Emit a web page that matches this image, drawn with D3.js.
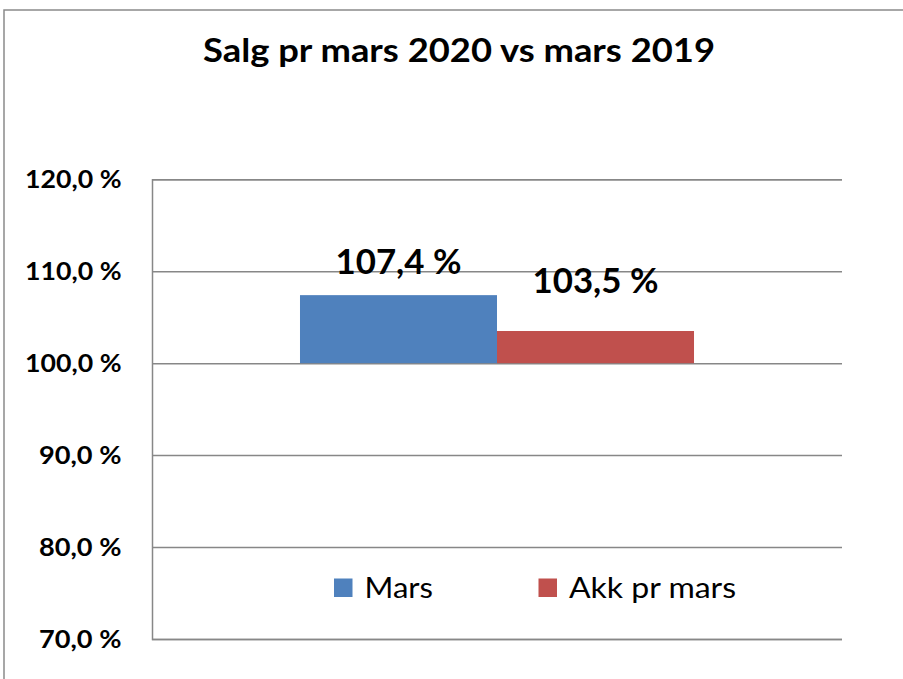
<!DOCTYPE html>
<html><head><meta charset="utf-8">
<script src="https://cdn.jsdelivr.net/npm/d3@7"></script>
<style>body{margin:0;background:#fff}svg{display:block}</style>
</head><body>
<script>
// ---- data ----
const chartTitle = "Salg pr mars 2020 vs mars 2019";
const categories = ["mars"];
const seriesNames = ["Mars", "Akk pr mars"];
const seriesValues = [107.4, 103.5];
const yTicks = [70, 80, 90, 100, 110, 120];
const yDomain = [70, 120];
const baseValue = 100;

// ---- style / layout ----
const W = 903, H = 679;
const colors = ["#4F81BD", "#C0504D"];
const gridColor = "#878787";
const font = "Lato, 'Open Sans', sans-serif";
const plot = {left: 152, right: 842, top: 179.3, bottom: 639};

const locale = d3.formatLocale({decimal: ",", thousands: " ", grouping: [3], currency: ["", ""]});
const fmt = v => locale.format(".1f")(v) + " %";

const svg = d3.select("body").append("svg").attr("width", W).attr("height", H);
svg.append("rect").attr("width", W).attr("height", H).attr("fill", "#fff");

// outer frame (clipped at right/bottom as in the reference)
svg.append("rect").attr("x", 4).attr("y", 10).attr("width", W + 20).attr("height", H + 20)
  .attr("fill", "none").attr("stroke", "#8a8a8a").attr("stroke-width", 1.5);

// title
svg.append("text").attr("x", 459).attr("y", 62).attr("text-anchor", "middle")
  .attr("font-family", font).attr("font-weight", 700).attr("font-size", 33)
  .attr("textLength", 512).attr("lengthAdjust", "spacingAndGlyphs")
  .attr("fill", "#000").text(chartTitle);

const y = d3.scaleLinear().domain(yDomain).range([plot.bottom, plot.top]);
const x0 = d3.scaleBand().domain(categories).range([plot.left, plot.right])
  .paddingInner(0).paddingOuter(0.3756);
const x1 = d3.scaleBand().domain(seriesNames).range([0, x0.bandwidth()]).padding(0);

// gridlines + y axis
const yAxis = d3.axisLeft(y).tickValues(yTicks).tickSize(-(plot.right - plot.left)).tickFormat(fmt).tickPadding(30);
const ga = svg.append("g").attr("transform", `translate(${plot.left},0)`).call(yAxis);
ga.select(".domain").attr("stroke", gridColor).attr("stroke-width", 1.5);
ga.selectAll(".tick line").attr("stroke", gridColor).attr("stroke-width", 1.5);
ga.selectAll(".tick text").attr("font-family", font).attr("font-weight", 700)
  .attr("font-size", 24).attr("fill", "#000").attr("x", -30.5).attr("dy", "0.36em")
  .attr("textLength", d => d >= 100 ? 96.5 : 82.5).attr("lengthAdjust", "spacingAndGlyphs");

// bars
const g = svg.append("g").attr("transform", `translate(${x0(categories[0])},0)`);
g.selectAll("rect").data(seriesValues).join("rect")
  .attr("x", (d, i) => x1(seriesNames[i]))
  .attr("width", x1.bandwidth())
  .attr("y", d => y(Math.max(d, baseValue)))
  .attr("height", d => Math.abs(y(d) - y(baseValue)))
  .attr("fill", (d, i) => colors[i]);

// data labels
const labelDy = [-21.5, -38.3];
g.selectAll("text.lbl").data(seriesValues).join("text").attr("class", "lbl")
  .attr("x", (d, i) => x1(seriesNames[i]) + x1.bandwidth() / 2)
  .attr("y", (d, i) => y(d) + labelDy[i])
  .attr("text-anchor", "middle").attr("font-family", font).attr("font-weight", 700)
  .attr("font-size", 34).attr("fill", "#000")
  .attr("textLength", 126).attr("lengthAdjust", "spacingAndGlyphs")
  .text(d => fmt(d));

// legend
const legendX = [334, 538.5];
const legendTextW = [68.5, 167];
const lg = svg.append("g");
seriesNames.forEach((name, i) => {
  lg.append("rect").attr("x", legendX[i]).attr("y", 578.5).attr("width", 18.5).attr("height", 18.5)
    .attr("fill", colors[i]);
  lg.append("text").attr("x", legendX[i] + 30.5).attr("y", 598)
    .attr("font-family", font).attr("font-size", 29).attr("fill", "#000")
    .attr("textLength", legendTextW[i]).attr("lengthAdjust", "spacingAndGlyphs")
    .text(name);
});
</script>
</body></html>
